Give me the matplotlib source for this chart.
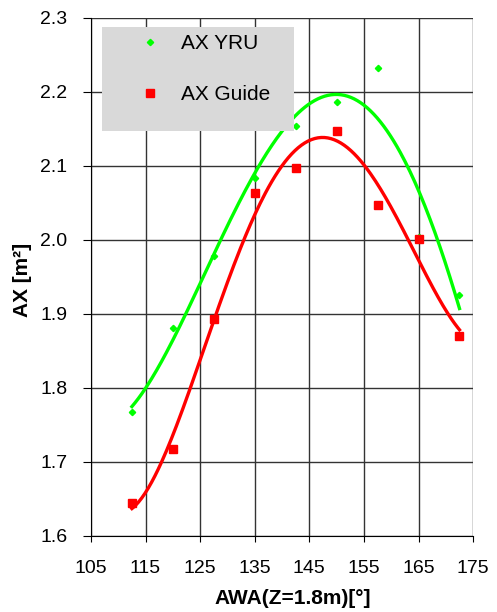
import numpy as np
import matplotlib
matplotlib.use('Agg')
from matplotlib import pyplot as plt
from matplotlib.patches import Rectangle

plt.rcParams['font.family'] = ['Liberation Sans', 'DejaVu Sans']

awa = [112.5, 120, 127.5, 135, 142.5, 150, 157.5, 165, 172.5]
ax_yru = [1.768, 1.881, 1.978, 2.084, 2.154, 2.187, 2.233, 2.004, 1.925]
ax_guide = [1.644, 1.718, 1.893, 2.064, 2.097, 2.147, 2.047, 2.001, 1.870]

fig = plt.figure(figsize=(4.97, 6.12), dpi=100)
ax = fig.add_axes([0.183, 0.1242, 0.769, 0.8464])

# polynomial trend lines (order 4) like excel
xs = np.linspace(112.5, 172.5, 200)
fit_yru = np.polyval(np.polyfit(awa, ax_yru, 4), xs)
fit_guide = np.polyval(np.polyfit(awa, ax_guide, 4), xs)
ax.plot(xs, fit_yru, color='#00ff00', lw=2.4, zorder=3)
ax.plot(xs, fit_guide, color='#ff0000', lw=2.4, zorder=3)

ax.plot(awa, ax_yru, 'D', color='#00ff00', ms=3.2, ls='none', label='AX YRU', zorder=4)
ax.plot(awa, ax_guide, 's', color='#ff0000', ms=5.2, ls='none', label='AX Guide', zorder=4)

ax.set_xlim(105, 175)
ax.set_ylim(1.6, 2.3)
ax.set_xticks(np.arange(105, 176, 10))
ax.set_yticks(np.arange(1.6, 2.31, 0.1))
ax.set_yticklabels(['%.1f' % v for v in np.arange(1.6, 2.31, 0.1)])
ax.grid(True, color='#333333', lw=1.0)
ax.set_axisbelow(True)
for s in ['top', 'right']:
    ax.spines[s].set_visible(False)
ax.tick_params(axis='x', labelsize=14, length=4, pad=13)
ax.tick_params(axis='y', labelsize=14, length=5.8, pad=11)

ax.set_xlabel('AWA(Z=1.8m)[°]', fontsize=15, fontweight='bold')
ax.set_ylabel('AX [m²]', fontsize=15, fontweight='bold')
ax.xaxis.set_label_coords(0.529, -0.102)
ax.yaxis.set_label_coords(-0.155, 0.494)

# legend box
ax.add_patch(Rectangle((0.0288, 0.782), 0.502, 0.2006, transform=ax.transAxes,
                       facecolor='#d9d9d9', edgecolor='none', zorder=5))
leg = ax.legend(loc='center left', bbox_to_anchor=(0.089, 0.9015), fontsize=15,
                frameon=False, labelspacing=1.55, borderpad=0, handletextpad=0.29,
                handlelength=2.4, borderaxespad=0)
leg.set_zorder(6)

fig.savefig('out.png', dpi=100)
